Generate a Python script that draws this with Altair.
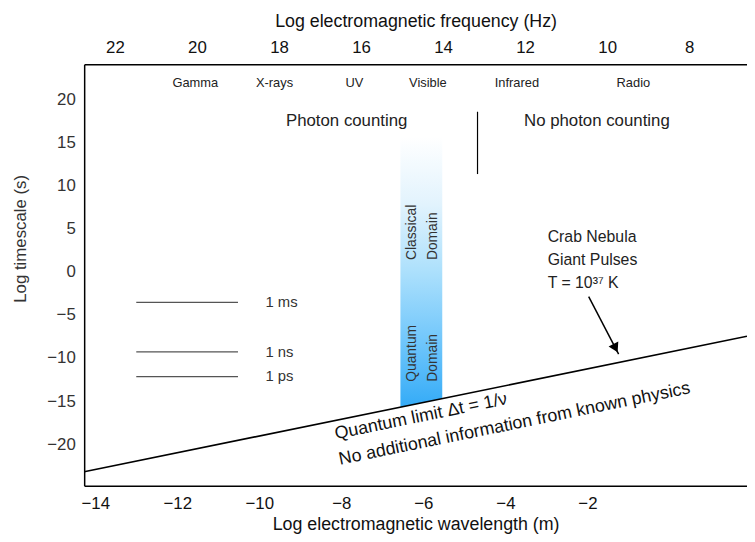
import altair as alt
import pandas as pd

LOG_C = 8.48  # log10 of the speed of light (m/s): log wavelength = LOG_C - log frequency

freq_ticks = [22, 20, 18, 16, 14, 12, 10, 8]
wavelength_ticks = [-14, -12, -10, -8, -6, -4, -2]
time_ticks = [20, 15, 10, 5, 0, -5, -10, -15, -20]

x_domain = [6.59, 22.75]
y_domain = [-24.83, 24.14]

# spectral bands (log frequency centre)
band_names = ["Gamma", "X-rays", "UV", "Visible", "Infrared", "Radio"]
band_freq = [20.04, 18.11, 16.16, 14.37, 12.20, 9.36]
band_level = 22.0

# quantum limit line  (log t vs log nu)
quantum_freq = [22.75, 6.59]
quantum_time = [-23.22, -7.47]

# reference timescales
scale_names = ["1 ms", "1 ns", "1 ps"]
scale_time = [-3.53, -9.28, -12.15]
scale_from, scale_to, scale_label_at = 21.48, 19.0, 18.33

# photon counting split
count_names = ["Photon counting", "No photon counting"]
count_freq = [16.35, 10.25]
count_level = 17.59
split_freq, split_top, split_bottom = 13.16, 18.62, 11.38

# classical / quantum domain bar
bar_freq = [15.04, 14.02]
bar_top = [15.75, 15.75]
bar_bottom = [-15.71, -14.71]
domain_words = ["Classical", "Domain", "Quantum", "Domain"]
domain_freq = [14.76, 14.25, 14.76, 14.25]
domain_time = [1.38, 1.38, -12.76, -12.76]

# Crab nebula annotation
crab_lines = ["Crab Nebula", "Giant Pulses", "T = 10\u00b3\u2077 K"]
crab_time = [4.06, 1.38, -1.26]
crab_freq = 11.45
arrow_freq = [10.45, 9.72]
arrow_time = [-2.87, -9.54]
head_freq, head_time = 9.795, -8.85

# text along quantum line
limit_lines = ["Quantum limit \u0394t = 1/\u03bd", "No additional information from known physics"]
limit_freq = [16.61, 16.51]
limit_time = [-19.43, -22.41]

FONT = "Liberation Sans"

xs = alt.Scale(domain=x_domain, reverse=True, nice=False, zero=False)
ys = alt.Scale(domain=y_domain, nice=False, zero=False)


def X(field="x", axis=None):
    return alt.X(field, type="quantitative", scale=xs, axis=axis)


def Y(field="y", axis=None):
    return alt.Y(field, type="quantitative", scale=ys, axis=axis)


top_axis = alt.Axis(orient="top", values=freq_ticks, format="d",
                    title="Log electromagnetic frequency (Hz)",
                    ticks=False, grid=False, domainColor="black", domainWidth=1.5,
                    labelFont=FONT, titleFont=FONT, labelFontSize=17,
                    titleFontSize=18, titleFontWeight="normal", labelColor="#111",
                    titleColor="#111", labelPadding=8, titlePadding=8,
                    labelFlush=False, labelOverlap=False)
bottom_axis = alt.Axis(orient="bottom", values=[LOG_C - w for w in wavelength_ticks],
                       labelExpr="format(%s - datum.value, '.0f')" % LOG_C,
                       title="Log electromagnetic wavelength (m)",
                       ticks=False, grid=False, domainColor="black", domainWidth=1.5,
                       labelFont=FONT, titleFont=FONT, labelFontSize=17,
                       titleFontSize=18, titleFontWeight="normal", labelColor="#111",
                       titleColor="#111", labelPadding=10, titlePadding=4,
                       labelFlush=False, labelOverlap=False)
left_axis = alt.Axis(orient="left", values=time_ticks, format="d",
                     title="Log timescale (s)", ticks=False, grid=False,
                     domainColor="black", domainWidth=1.5,
                     labelFont=FONT, titleFont=FONT, labelFontSize=17,
                     titleFontSize=17, titleFontWeight="normal", labelColor="#333",
                     titleColor="#333", labelPadding=9,
                     titleX=-64, titleY=176, titleBaseline="middle", titleAlign="center",
                     titleAngle=270,
                     labelFlush=False, labelOverlap=False)

bar_df = pd.DataFrame({"x": bar_freq, "y": bar_top, "y2": bar_bottom})
gradient = alt.Gradient(
    gradient="linear",
    stops=[alt.GradientStop(color="#ffffff", offset=0),
           alt.GradientStop(color="#e2f3fd", offset=0.25),
           alt.GradientStop(color="#ace0fc", offset=0.5),
           alt.GradientStop(color="#72c7fb", offset=0.75),
           alt.GradientStop(color="#34abf7", offset=1)],
    x1=0, x2=0, y1=0, y2=1)
bar = alt.Chart(bar_df).mark_area(color=gradient, opacity=1).encode(
    x=X(), y=Y(), y2=alt.Y2("y2"))

quantum_df = pd.DataFrame({"x": quantum_freq, "y": quantum_time})
quantum = alt.Chart(quantum_df).mark_line(color="black", strokeWidth=1.6, clip=True).encode(
    x=X(axis=top_axis), y=Y(axis=left_axis))

scale_df = pd.DataFrame({"x": [scale_from] * 3, "x2": [scale_to] * 3, "y": scale_time,
                         "lx": [scale_label_at] * 3, "text": scale_names})
scale_rules = alt.Chart(scale_df).mark_rule(color="#555", strokeWidth=1.3).encode(
    x=X(axis=bottom_axis), x2=alt.X2("x2"), y=Y())
scale_text = alt.Chart(scale_df).mark_text(align="left", baseline="middle", font=FONT,
                                           fontSize=15, color="#333").encode(
    x=X("lx"), y=Y(), text="text:N")

split_df = pd.DataFrame({"x": [split_freq], "y": [split_top], "y2": [split_bottom]})
split = alt.Chart(split_df).mark_rule(color="black", strokeWidth=1.2).encode(
    x=X(), y=Y(), y2=alt.Y2("y2"))

band_df = pd.DataFrame({"x": band_freq, "y": [band_level] * len(band_names), "text": band_names})
bands = alt.Chart(band_df).mark_text(align="center", baseline="middle", font=FONT,
                                     fontSize=13, color="#222").encode(
    x=X(), y=Y(), text="text:N")

count_df = pd.DataFrame({"x": count_freq, "y": [count_level] * 2, "text": count_names})
counts = alt.Chart(count_df).mark_text(align="center", baseline="middle", font=FONT,
                                       fontSize=17, color="#222").encode(
    x=X(), y=Y(), text="text:N")

dom_df = pd.DataFrame({"x": domain_freq, "y": domain_time, "text": domain_words})
dom_text = alt.Chart(dom_df).mark_text(align="left", baseline="middle", angle=270, font=FONT,
                                       fontSize=14, color="#333").encode(
    x=X(), y=Y(), text="text:N")

crab_df = pd.DataFrame({"x": [crab_freq] * 3, "y": crab_time, "text": crab_lines})
crab = alt.Chart(crab_df).mark_text(align="left", baseline="middle", font=FONT,
                                    fontSize=16, color="#222").encode(
    x=X(), y=Y(), text="text:N")

arrow_df = pd.DataFrame({"x": [arrow_freq[0]], "x2": [arrow_freq[1]],
                         "y": [arrow_time[0]], "y2": [arrow_time[1]]})
arrow = alt.Chart(arrow_df).mark_rule(color="black", strokeWidth=1.5).encode(
    x=X(), x2=alt.X2("x2"), y=Y(), y2=alt.Y2("y2"))
head_df = pd.DataFrame({"x": [head_freq], "y": [head_time]})
head = alt.Chart(head_df).mark_point(shape="triangle-up", angle=153.4, size=120, filled=True,
                                     color="black", opacity=1).encode(x=X(), y=Y())

limit_df = pd.DataFrame({"x": limit_freq, "y": limit_time, "text": limit_lines})
limit = alt.Chart(limit_df).mark_text(align="left", baseline="alphabetic", angle=348.44,
                                      font=FONT, fontSize=18, color="#111").encode(
    x=X(), y=Y(), text="text:N")

chart = alt.layer(
    bar, quantum, scale_rules, scale_text, split, bands, counts, dom_text, crab,
    arrow, head, limit
).resolve_axis(x="independent", y="independent").properties(
    width=670, height=426,
    autosize=alt.AutoSizeParams(type="none"),
    padding={"left": 77, "top": 54, "right": 0, "bottom": 46},
    background="white",
).configure_view(stroke=None)

chart.save("out.html", embed_options={"renderer": "svg", "actions": False})
